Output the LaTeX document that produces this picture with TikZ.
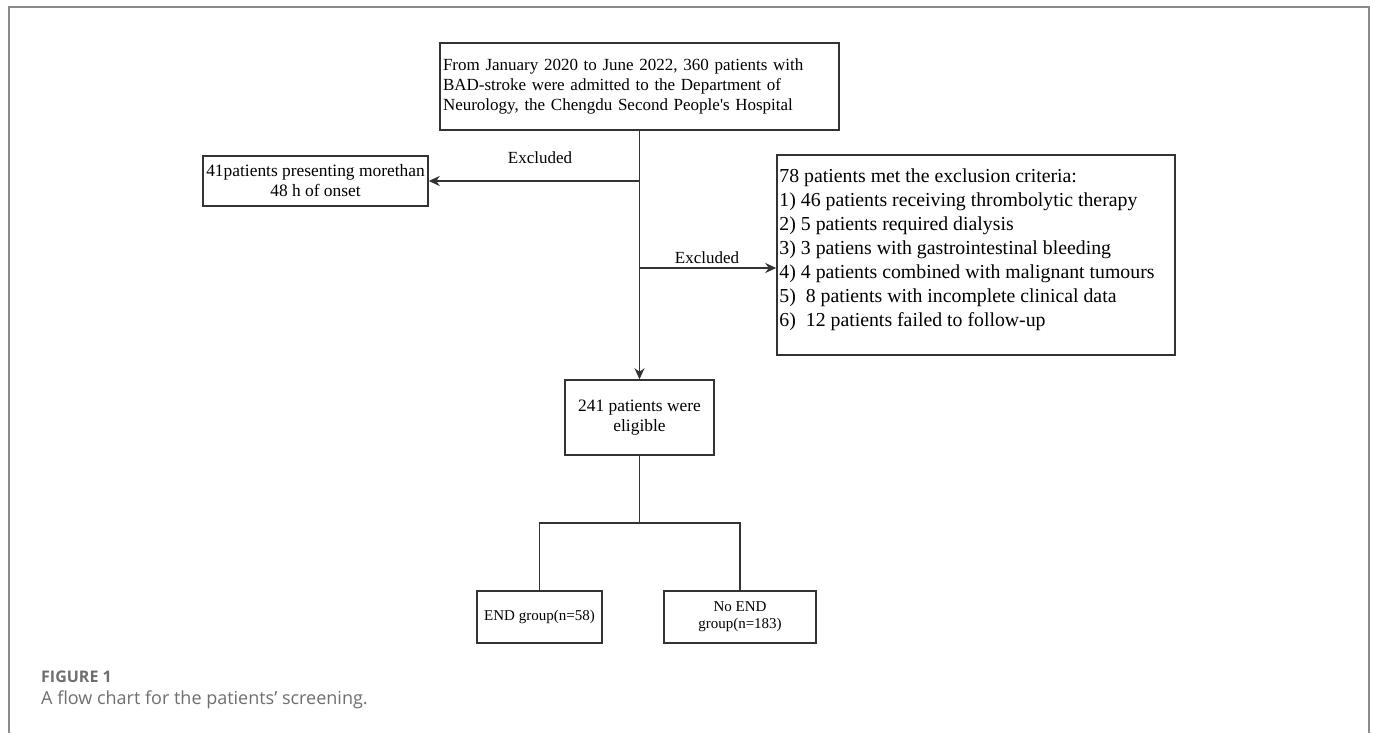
\documentclass[tikz,border=0pt]{standalone}
\usepackage{fontspec}
\setmainfont{Liberation Serif}
\newfontfamily\capfont{Open Sans}
\usetikzlibrary{arrows.meta,calc}
\definecolor{framegray}{HTML}{8A8A8A}
\definecolor{boxline}{HTML}{333333}
\definecolor{capgray}{HTML}{6E6E6E}
\begin{document}
\begin{tikzpicture}[x=1pt,y=-1pt,
  box/.style={draw=boxline, line width=1.5pt, inner sep=0pt, font=\fontsize{17.4}{20}\selectfont},
  conn/.style={draw=boxline, line width=1.5pt},
  arr/.style={conn, -{Stealth[length=11pt,width=10pt,inset=3.5pt]}},
  lbl/.style={font=\fontsize{17}{20}\selectfont, inner sep=0pt}
]
\useasboundingbox (0,0) rectangle (1375,733);
% outer frame
\draw[framegray, line width=2pt] (8.5,733) -- (8.5,7) -- (1368.5,7) -- (1368.5,733);

% nodes
\node[box, minimum width=399pt, minimum height=87pt, text width=393pt, align=left, font=\fontsize{17}{20}\selectfont] (top) at (639.5,86.5)
  {From January 2020 to June 2022, 360 patients with\\BAD-stroke were admitted to the Department of\\Neurology, the Chengdu Second People\textquotesingle s Hospital};
\node[box, minimum width=225pt, minimum height=50pt, align=center] (late) at (315.5,181)
  {41patients presenting morethan\\48 h of onset};
\node[box, minimum width=398pt, minimum height=200pt] (excl) at (976,255) {};
\node[anchor=north west, inner sep=0pt, align=left, font=\fontsize{19.8}{24}\selectfont] (excltext) at ($(excl.north west)+(3,14)$)
  {78 patients met the exclusion criteria:\\
   1) 46 patients receiving thrombolytic therapy\\
   2) 5 patients required dialysis\\
   3) 3 patiens with gastrointestinal bleeding\\
   4) 4 patients combined with malignant tumours\\
   5)\ \ 8 patients with incomplete clinical data\\
   6)\ \ 12 patients failed to follow-up};
\node[box, minimum width=149pt, minimum height=75pt, align=center] (elig) at (639.5,417.5)
  {241 patients were\\eligible};
\node[box, minimum width=125pt, minimum height=52pt, align=center, font=\fontsize{15}{17}\selectfont] (endg) at (539.5,617)
  {END group(n=58)};
\node[box, minimum width=152pt, minimum height=52pt, align=center, font=\fontsize{15}{17}\selectfont] (noend) at (740,617)
  {No END\\group(n=183)};

% junction coordinates
\coordinate (j1) at (top.south |- late.east);
\coordinate (j2) at (639.5,268);
\coordinate (j3) at (639.5,523);

% connectors
\draw[arr] (top.south) -- (elig.north);
\draw[arr] (j1) -- (late.east);
\draw[arr] (j2) -- (excl.west |- j2);
\draw[conn] (elig.south) -- (j3);
\draw[conn] (endg.north) -- (endg.north |- j3) -- (noend.north |- j3) -- (noend.north);

% labels
\node[lbl] (ex1) at (540,158) {Excluded};
\node[lbl] (ex2) at (707,258) {Excluded};

% caption
\node[anchor=west, inner sep=0pt, text=capgray, font=\capfont\bfseries\fontsize{16}{18}\selectfont] (figlab) at (41,677) {FIGURE 1};
\node[anchor=west, inner sep=0pt, text=capgray, font=\capfont\fontsize{18}{21}\selectfont] (cap) at (41,700) {A flow chart for the patients’ screening.};
\end{tikzpicture}
\end{document}
